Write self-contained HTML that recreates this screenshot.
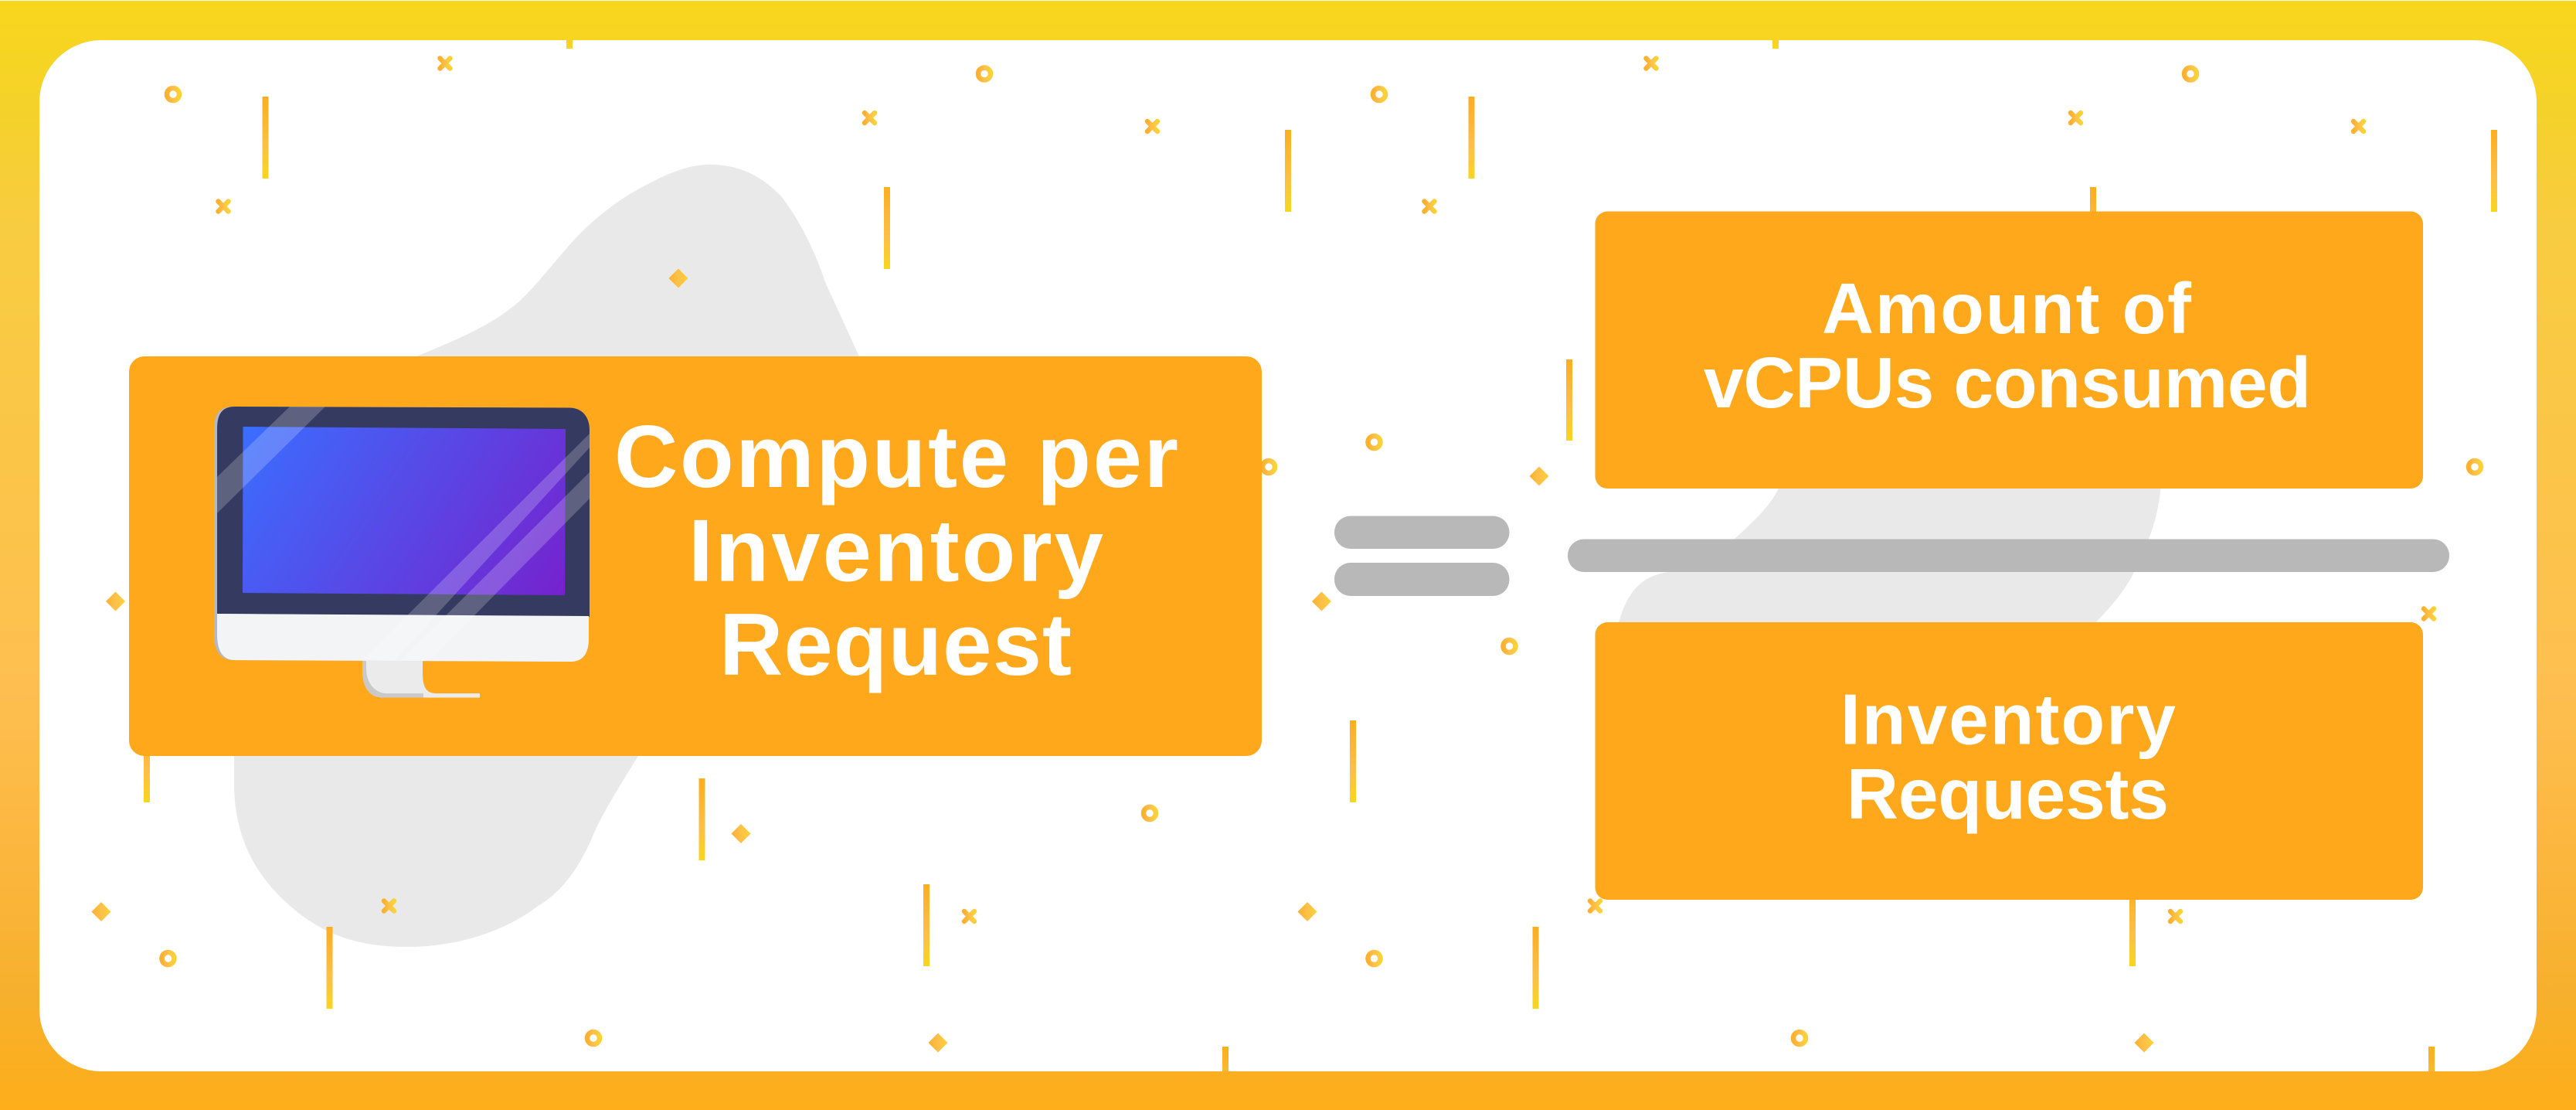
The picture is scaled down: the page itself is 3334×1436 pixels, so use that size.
<!DOCTYPE html>
<html><head><meta charset="utf-8"><style>html,body{margin:0;padding:0;background:#fff}svg{display:block}text{font-family:"Liberation Sans",sans-serif;font-weight:700;fill:#fff}</style></head><body>
<svg xmlns="http://www.w3.org/2000/svg" width="3334" height="1436" viewBox="0 0 3334 1436">
<defs>
<linearGradient id="fr" x1="0" y1="0" x2="0" y2="1"><stop offset="0" stop-color="#f8d61c"/><stop offset=".1" stop-color="#f5d22a"/><stop offset=".2" stop-color="#f8cc40"/><stop offset=".62" stop-color="#febf50"/><stop offset=".77" stop-color="#fbb63e"/><stop offset=".9" stop-color="#f7b02c"/><stop offset="1" stop-color="#fdae1a"/></linearGradient>
<linearGradient id="ln" x1="0" y1="0" x2="0" y2="1"><stop offset="0" stop-color="#fcae1e"/><stop offset=".6" stop-color="#fdbf45"/><stop offset="1" stop-color="#f8d61e"/></linearGradient>
<linearGradient id="sh" x1="0" y1="0" x2="1" y2="0"><stop offset="0" stop-color="#fbb02e"/><stop offset=".5" stop-color="#fdc04a"/><stop offset="1" stop-color="#fad236"/></linearGradient>
<linearGradient id="sc" x1="0" y1="0" x2="1.2" y2=".4"><stop offset="0" stop-color="#3a6eff"/><stop offset="1" stop-color="#7622cd"/></linearGradient>
<clipPath id="cl"><rect x="51" y="52" width="3232" height="1334" rx="80"/></clipPath>
<g id="t">
<g fill="none" stroke="url(#sh)" stroke-width="6.5">
<circle cx="224" cy="122" r="8"/><circle cx="1274" cy="95.500" r="8"/><circle cx="217.500" cy="572" r="8"/><circle cx="1642" cy="604" r="8"/><circle cx="392.500" cy="836" r="8"/><circle cx="1488" cy="1052" r="8"/><circle cx="217.500" cy="1240" r="8"/><circle cx="768" cy="1343" r="8"/>
</g>
<g fill="none" stroke="url(#sh)" stroke-width="6.5" stroke-linecap="round">
<path d="M569.500 75.500l13 13M582.500 75.500l-13 13"/><path d="M1119 146l13 13M1132 146l-13 13"/><path d="M1485 157l13 13M1498 157l-13 13"/><path d="M282.500 260.500l13 13M295.500 260.500l-13 13"/><path d="M1576 787.500l13 13M1589 787.500l-13 13"/><path d="M497 1165.500l13 13M510 1165.500l-13 13"/><path d="M1248 1179l13 13M1261 1179l-13 13"/>
</g>
<g fill="url(#sh)">
<path d="M878 347.500l12.500 12.500-12.500 12.500-12.500-12.500z"/><path d="M431 603.500l12.500 12.500-12.500 12.500-12.500-12.500z"/><path d="M149.500 765.500l12.500 12.500-12.500 12.500-12.500-12.500z"/><path d="M959 1066l12.500 12.500-12.500 12.500-12.500-12.500z"/><path d="M131 1167l12.500 12.500-12.500 12.500-12.500-12.500z"/><path d="M1214 1336.500l12.500 12.500-12.500 12.500-12.500-12.500z"/>
</g>
<g fill="url(#ln)">
<rect x="339.500" y="125" width="8" height="106"/><rect x="733" y="-43" width="8" height="106"/><rect x="1144" y="242" width="8" height="106"/><rect x="1663" y="168" width="8" height="106"/><rect x="466" y="465" width="8" height="105"/><rect x="186" y="932" width="8" height="106"/><rect x="904.500" y="1007" width="8" height="106"/><rect x="422.500" y="1199" width="8" height="106"/><rect x="1195" y="1144" width="8" height="106"/><rect x="1582" y="1354" width="8" height="106"/>
</g>
</g>
</defs>
<rect x="0" y="1" width="3334" height="1435" fill="url(#fr)"/>
<rect x="51" y="52" width="3232" height="1334" rx="80" fill="#fff"/>
<path fill="#e9e9e9" d="M539 461C590 440 640 420 675 387C700 363 720 335 745 308C770 282 800 258 835 240C865 224 890 213 919 213C955 213 985 226 1012 255C1035 285 1055 325 1068 365L1112 461L1112 978L826 978C800 1020 775 1060 765 1087C745 1130 725 1155 695 1173C660 1200 600 1225 526 1225C470 1225 425 1212 385 1180C335 1140 305 1090 303 1020L303 461Z"/>
<path fill="#e9e9e9" d="M2094 810C2105 765 2125 745 2159 740C2190 735 2215 725 2245 697C2275 670 2295 650 2305 625L2797 625C2795 655 2788 680 2781 697C2778 715 2772 728 2762 740C2750 765 2732 785 2708 810Z"/>
<g clip-path="url(#cl)"><use href="#t"/><use href="#t" x="1561"/></g>
<rect x="167" y="461" width="1466" height="517" rx="20" fill="#ffa81c"/>
<rect x="2064.500" y="273.500" width="1071.500" height="358.500" rx="16" fill="#ffa81c"/>
<rect x="2064.500" y="805" width="1071.500" height="359" rx="16" fill="#ffa81c"/>
<rect x="1727" y="667.500" width="226.500" height="42.500" rx="21" fill="#b8b8b8"/>
<rect x="1727" y="728" width="226.500" height="43" rx="21" fill="#b8b8b8"/>
<rect x="2029" y="697.500" width="1141" height="42.500" rx="21" fill="#b8b8b8"/>
<path d="M469 855L469 870C470 888 477 902 495 902.500L621 902.500L621 897L565 897C552 897 547 890 547 870L547 855Z" fill="#ebebeb"/>
<path d="M469 855L469 870C470 888 477 902 495 902.500L548 902.500L548 897L498 897C482 895 474 880 474 865L474 855Z" fill="#c9c9c9"/>
<path d="M277 555C277 535 285 526 302 526L738 527.500C754 528 762 540 762 556L762 826C762 845 755 856 738 856L302 854C285 854 277 842 277 820Z" fill="#b3b7c9"/>
<path d="M281 555C281 535 288 526 304 526L738 527.500C754 528 763 540 763 556L763 798L281 794Z" fill="#353b60"/>
<path d="M281 794L762 797L762 826C762 845 755 856 738 856L304 854C288 854 281 842 281 820Z" fill="#f3f4f6"/>
<path d="M314.500 552L732 555L731 770L314 767Z" fill="url(#sc)"/>
<g fill="#fff" opacity=".2">
<path d="M375 526L421 526L281 664L281 617Z"/>
<path d="M763 561L763 579L510 855L468 855Z"/>
<path d="M763 611L763 645L556 855L518 855Z"/>
</g>
<text x="795" y="630" font-size="114" textLength="730" lengthAdjust="spacing">Compute per</text>
<text x="891" y="751.500" font-size="114" textLength="537" lengthAdjust="spacing">Inventory</text>
<text x="931" y="873" font-size="114" textLength="456" lengthAdjust="spacing">Request</text>
<text x="2358" y="431" font-size="93" textLength="478" lengthAdjust="spacing">Amount of</text>
<text x="2205" y="527" font-size="93" textLength="786" lengthAdjust="spacing">vCPUs consumed</text>
<text x="2382" y="962.500" font-size="93" textLength="434" lengthAdjust="spacing">Inventory</text>
<text x="2390" y="1059" font-size="93" textLength="417" lengthAdjust="spacing">Requests</text>
</svg>
</body></html>
